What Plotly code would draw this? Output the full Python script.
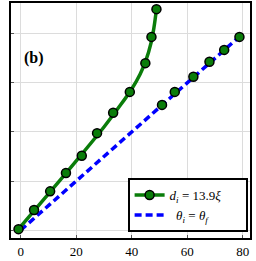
import plotly.graph_objects as go

# green measured markers (d_i = 13.9 xi)
data_x = [-0.8, 4.8, 10.6, 16.3, 22.0, 27.5, 33.3, 39.3, 44.9, 47.1, 48.9,
          50.9, 55.5, 62.2, 68.0, 73.3, 78.8]
data_y = [0.4, 8.2, 15.8, 23.3, 30.3, 39.5, 47.8, 56.3, 68.0, 78.7, 90.0,
          51.0, 56.3, 62.5, 68.6, 73.4, 78.7]
# green smooth curve
curve_x = [-0.8, 10.0, 20.0, 30.0, 35.0, 40.0, 43.0, 45.0, 47.0, 48.0, 48.9]
curve_y = [0.4, 14.8, 28.2, 42.0, 49.5, 57.5, 63.5, 68.8, 76.5, 82.5, 90.0]
# blue reference line
ref_x = [0, 79]
ref_y = [0, 79]

x_ticks = [0, 20, 40, 60, 80]
y_grid = [0, 20, 40, 60, 80]

GREEN = "#0a7d0a"
BLUE = "#0000ff"
FONT = "Liberation Serif"
PAD = "\u00a0" * 6

fig = go.Figure()
fig.add_trace(go.Scatter(
    x=ref_x, y=ref_y, mode="lines",
    line=dict(color=BLUE, width=3.5, dash="7px,4px"),
    name="\u00a0\u00a0<i>θ<sub>i</sub></i> = <i>θ<sub>f</sub></i>" + PAD, legendrank=2,
))
fig.add_trace(go.Scatter(
    x=curve_x, y=curve_y, mode="lines",
    line=dict(color=GREEN, width=3.5, shape="spline"),
    showlegend=False,
))
fig.add_trace(go.Scatter(
    x=data_x, y=data_y, mode="markers",
    marker=dict(color=GREEN, size=9, line=dict(color="black", width=1.5)),
    showlegend=False,
))
fig.add_trace(go.Scatter(
    x=[None], y=[None], mode="lines+markers",
    line=dict(color=GREEN, width=3.5),
    marker=dict(color=GREEN, size=9, line=dict(color="black", width=1.5)),
    name="<i>d<sub>i</sub></i> = 13.9<i>ξ</i>" + PAD, legendrank=1,
))

fig.update_layout(
    width=256, height=261,
    margin=dict(l=11, r=6, t=1, b=23),
    paper_bgcolor="white", plot_bgcolor="white",
    font=dict(family=FONT, size=13, color="black"),
    showlegend=True,
    legend=dict(
        x=0.99, y=0.025, xanchor="right", yanchor="bottom",
        bgcolor="white", bordercolor="black", borderwidth=2,
        font=dict(family=FONT, size=13),
        tracegroupgap=0,
    ),
    annotations=[dict(
        x=0.096, y=0.764, xref="paper", yref="paper",
        xanchor="center", yanchor="middle",
        text="<b>(b)</b>", showarrow=False,
        font=dict(family=FONT, size=16, color="black"),
    )],
)
fig.update_xaxes(
    range=[-3.5, 82.6], tickvals=x_ticks, ticktext=[str(v) for v in x_ticks],
    showgrid=True, gridcolor="#dcdcdc", gridwidth=1,
    showline=True, linecolor="black", linewidth=2, mirror=True,
    ticks="inside", ticklen=3, tickcolor="#555", zeroline=False,
)
fig.update_yaxes(
    range=[-3.2, 92.5], tickvals=y_grid, showticklabels=False,
    showgrid=True, gridcolor="#dcdcdc", gridwidth=1,
    showline=True, linecolor="black", linewidth=2, mirror=True,
    ticks="inside", ticklen=3, tickcolor="#555", zeroline=False,
)

fig.write_html("out.html", config={"displayModeBar": False},
               post_script="document.body.style.margin='0';")
